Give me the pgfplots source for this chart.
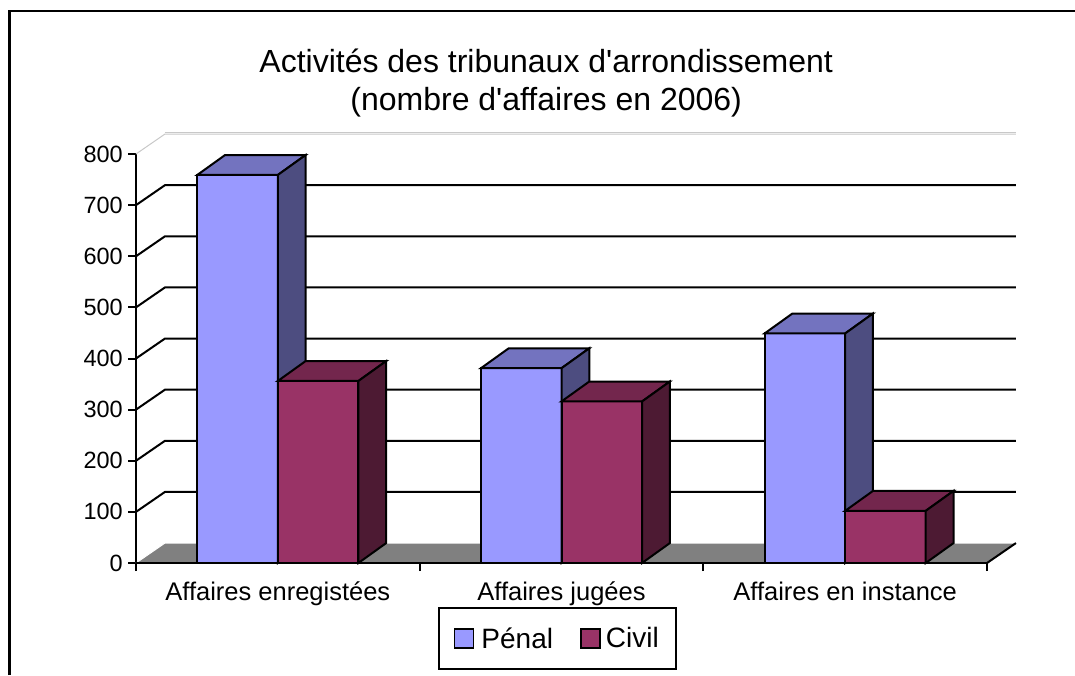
\documentclass[border=0pt]{standalone}
\usepackage{fontspec}
\setmainfont{Liberation Sans}
\usepackage{pgfplots}
\pgfplotsset{compat=1.18}
\definecolor{penF}{HTML}{9999FF}
\definecolor{penT}{HTML}{7373BF}
\definecolor{penS}{HTML}{4D4D80}
\definecolor{civF}{HTML}{993366}
\definecolor{civT}{HTML}{73264D}
\definecolor{civS}{HTML}{4D1A33}
\definecolor{floorg}{HTML}{808080}
\definecolor{wallg}{HTML}{C8C8C8}
\begin{document}
\begin{tikzpicture}
\path[use as bounding box] (0pt,0pt) rectangle (1075pt,675pt);
\draw[line width=2.5pt] (9.5pt,0pt) -- (9.5pt,664pt) -- (1075pt,664pt);
\begin{axis}[
  at={(136pt,112pt)}, anchor=south west,
  scale only axis, width=851pt, height=409pt,
  xmin=-0.5, xmax=2.5, ymin=0, ymax=800,
  clip=false,
  axis x line*=bottom, axis y line*=left,
  axis line style={line width=2pt, black},
  every tick/.style={line width=2pt, black},
  tick align=outside, major tick length=8pt,
  ytick={0,100,...,800},
  xtick={-0.5,0.5,1.5,2.5},
  x tick label as interval,
  xticklabels={Affaires enregistées, Affaires jugées, Affaires en instance},
  /pgf/number format/assume math mode=true,
  xticklabel style={anchor=base, yshift=-29pt, font=\fontsize{25.5}{30}\selectfont},
  yticklabel style={inner sep=0pt, xshift=-5pt, font=\fontsize{23.5}{28}\selectfont},
  title={Activités des tribunaux d\textquotesingle arrondissement\\(nombre d\textquotesingle affaires en 2006)},
  title style={at={(0.482,1)}, anchor=south, yshift=31pt, inner sep=0pt, align=center, font=\fontsize{32}{38}\selectfont},
  legend columns=2,
  legend style={at={(0.495,-0.1846)}, anchor=center, draw=black, line width=2pt,
    font=\fontsize{28}{34}\selectfont, inner xsep=15pt, inner ysep=17pt,
    /tikz/column 2/.style={column sep=25pt}},
]
% floor
\addplot[fill=floorg, draw=none, forget plot] coordinates {(-0.5,0) (-0.398,39) (2.602,39) (2.5,0)} -- cycle;
\addplot[white, line width=1pt, forget plot] coordinates {(-0.5,0) (-0.398,39) (2.602,39)};
\addplot[black, line width=2pt, forget plot] coordinates {(2.5,0) (2.602,39)};
% back wall top
\addplot[wallg, line width=1pt, forget plot] coordinates {(-0.5,800) (-0.398,839) (2.602,839)};
\addplot[wallg, line width=0.8pt, forget plot] coordinates {(-0.398,842) (2.602,842)};
% gridlines
\addplot[black, line width=2pt, forget plot] coordinates {(-0.5,100) (-0.398,139) (2.602,139)};
\addplot[black, line width=2pt, forget plot] coordinates {(-0.5,200) (-0.398,239) (2.602,239)};
\addplot[black, line width=2pt, forget plot] coordinates {(-0.5,300) (-0.398,339) (2.602,339)};
\addplot[black, line width=2pt, forget plot] coordinates {(-0.5,400) (-0.398,439) (2.602,439)};
\addplot[black, line width=2pt, forget plot] coordinates {(-0.5,500) (-0.398,539) (2.602,539)};
\addplot[black, line width=2pt, forget plot] coordinates {(-0.5,600) (-0.398,639) (2.602,639)};
\addplot[black, line width=2pt, forget plot] coordinates {(-0.5,700) (-0.398,739) (2.602,739)};
\addplot[black, line width=2pt, forget plot] coordinates {(-0.5,0) (2.5,0)};
% Penal fronts
\addplot[ybar, bar width=0.284, bar shift=-0.142, fill=penF, draw=black, line width=2pt,
  legend image code/.code={\draw[fill=penF, draw=black, line width=1.5pt] (0pt,-9.5pt) rectangle (19pt,9.5pt); \path (24pt,0pt);}]
  coordinates {(0,759) (1,381) (2,449)};
\addlegendentry{Pénal}
% Penal tops and sides
\addplot[fill=penT, draw=black, line width=2pt, forget plot] coordinates {(-0.284,759) (-0.186,798) (0.098,798) (0,759)} -- cycle;
\addplot[fill=penS, draw=black, line width=2pt, forget plot] coordinates {(0,0) (0.098,39) (0.098,798) (0,759)} -- cycle;
\addplot[fill=penT, draw=black, line width=2pt, forget plot] coordinates {(0.716,381) (0.814,420) (1.098,420) (1,381)} -- cycle;
\addplot[fill=penS, draw=black, line width=2pt, forget plot] coordinates {(1,0) (1.098,39) (1.098,420) (1,381)} -- cycle;
\addplot[fill=penT, draw=black, line width=2pt, forget plot] coordinates {(1.716,449) (1.814,488) (2.098,488) (2,449)} -- cycle;
\addplot[fill=penS, draw=black, line width=2pt, forget plot] coordinates {(2,0) (2.098,39) (2.098,488) (2,449)} -- cycle;
% Civil fronts
\addplot[ybar, bar width=0.284, bar shift=0.142, fill=civF, draw=black, line width=2pt,
  legend image code/.code={\draw[fill=civF, draw=black, line width=1.5pt] (0pt,-9.5pt) rectangle (19pt,9.5pt); \path (22pt,0pt);}]
  coordinates {(0,356) (1,316) (2,102)};
\addlegendentry{Civil}
% Civil tops and sides
\addplot[fill=civT, draw=black, line width=2pt, forget plot] coordinates {(0,356) (0.098,395) (0.382,395) (0.284,356)} -- cycle;
\addplot[fill=civS, draw=black, line width=2pt, forget plot] coordinates {(0.284,0) (0.382,39) (0.382,395) (0.284,356)} -- cycle;
\addplot[fill=civT, draw=black, line width=2pt, forget plot] coordinates {(1,316) (1.098,355) (1.382,355) (1.284,316)} -- cycle;
\addplot[fill=civS, draw=black, line width=2pt, forget plot] coordinates {(1.284,0) (1.382,39) (1.382,355) (1.284,316)} -- cycle;
\addplot[fill=civT, draw=black, line width=2pt, forget plot] coordinates {(2,102) (2.098,141) (2.382,141) (2.284,102)} -- cycle;
\addplot[fill=civS, draw=black, line width=2pt, forget plot] coordinates {(2.284,0) (2.382,39) (2.382,141) (2.284,102)} -- cycle;
\end{axis}
\end{tikzpicture}
\end{document}
